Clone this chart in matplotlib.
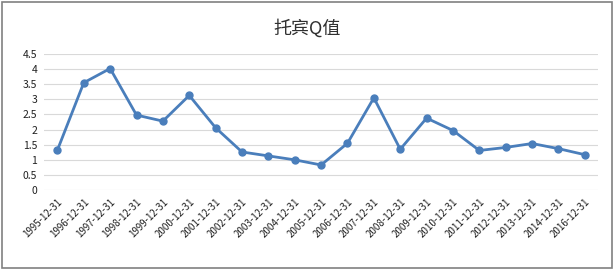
import matplotlib
matplotlib.use('Agg')
import matplotlib.pyplot as plt
from matplotlib.patches import Rectangle

plt.rcParams['font.family'] = ['Noto Sans CJK SC', 'DejaVu Sans']

dates = ['1995-12-31', '1996-12-31', '1997-12-31', '1998-12-31', '1999-12-31',
         '2000-12-31', '2001-12-31', '2002-12-31', '2003-12-31', '2004-12-31',
         '2005-12-31', '2006-12-31', '2007-12-31', '2008-12-31', '2009-12-31',
         '2010-12-31', '2011-12-31', '2012-12-31', '2013-12-31', '2014-12-31',
         '2016-12-31']
q_values = [1.32, 3.55, 4.02, 2.48, 2.28, 3.13, 2.06, 1.26, 1.13, 1.00,
            0.83, 1.55, 3.05, 1.35, 2.38, 1.97, 1.31, 1.41, 1.54, 1.37, 1.17]
y_ticks = [0, 0.5, 1, 1.5, 2, 2.5, 3, 3.5, 4, 4.5]

fig = plt.figure(figsize=(6.14, 2.70), dpi=100)
ax = fig.add_axes([0.072, 0.296, 0.902, 0.504])

x = list(range(len(dates)))
ax.plot(x, q_values, color='#4A7EBB', linewidth=2.0, marker='o', markersize=5)

ax.set_xlim(-0.5, len(dates) - 0.5)
ax.set_ylim(0, 4.5)
ax.set_yticks(y_ticks)
ax.set_yticklabels([f'{t:g}' for t in y_ticks], fontsize=7.5, color='#202020')
ax.set_xticks(x)
ax.set_xticklabels(dates, rotation=45, ha='right', rotation_mode='anchor',
                   fontsize=7, color='#202020')
ax.tick_params(length=0, pad=5)
ax.grid(axis='y', color='#D9D9D9', linewidth=0.8)
ax.set_axisbelow(True)
for s in ax.spines.values():
    s.set_visible(False)

fig.text(0.5, 0.895, '托宾Q值', ha='center', va='center', fontsize=13, color='#303030')

# outer border like the spreadsheet chart frame
fig.patches.append(Rectangle((0.004, 0.006), 0.992, 0.988, transform=fig.transFigure,
                             fill=False, edgecolor='#808080', linewidth=1.2))

fig.savefig('out.png', dpi=100)
